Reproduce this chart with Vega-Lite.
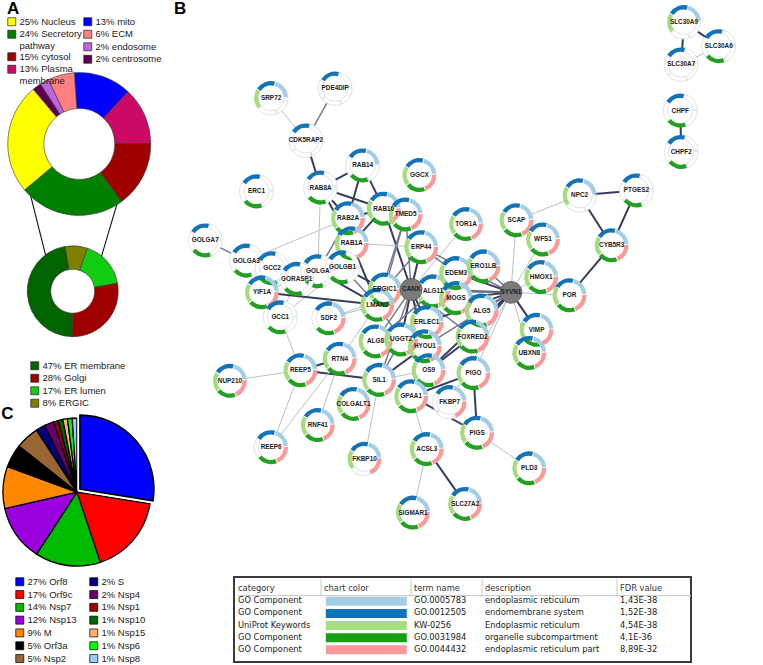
{
  "$schema": "https://vega.github.io/schema/vega-lite/v6.json",
  "padding": 0,
  "background": "white",
  "bounds": "full",
  "spacing": 0,
  "config": {
    "view": {"stroke": null},
    "title": {"anchor": "start", "fontSize": 17, "fontWeight": "bold", "font": "Liberation Sans", "color": "#000000", "offset": -18},
    "legend": {"orient": "none", "padding": 0, "symbolType": "square", "symbolSize": 64, "symbolStrokeColor": "#222222", "symbolStrokeWidth": 0.7, "labelFont": "Liberation Sans", "labelFontSize": 9.5, "labelColor": "#1a1a1a", "labelOffset": 3, "rowPadding": 0.5, "labelLimit": 300}
  },
  "datasets": {
    "subcell": [
      {"location": "mito", "pct": 13},
      {"location": "Plasma membrane", "pct": 13},
      {"location": "cytosol", "pct": 15},
      {"location": "Secretory pathway", "pct": 24},
      {"location": "Nucleus", "pct": 25},
      {"location": "centrosome", "pct": 2},
      {"location": "endosome", "pct": 2},
      {"location": "ECM", "pct": 6}
    ],
    "secretory": [
      {"location": "ERGIC", "pct": 8},
      {"location": "ER lumen", "pct": 17},
      {"location": "Golgi", "pct": 28},
      {"location": "ER membrane", "pct": 47}
    ],
    "sars": [
      {"protein": "Orf8", "pct": 27},
      {"protein": "Orf9c", "pct": 17},
      {"protein": "Nsp7", "pct": 14},
      {"protein": "Nsp13", "pct": 12},
      {"protein": "M", "pct": 9},
      {"protein": "Orf3a", "pct": 5},
      {"protein": "Nsp2", "pct": 5},
      {"protein": "S", "pct": 2},
      {"protein": "Nsp4", "pct": 2},
      {"protein": "Nsp1", "pct": 1},
      {"protein": "Nsp10", "pct": 1},
      {"protein": "Nsp15", "pct": 1},
      {"protein": "Nsp6", "pct": 1},
      {"protein": "Nsp8", "pct": 1}
    ],
    "nodes": [
      {"name": "SRP72", "gx": 255, "gy": 102, "m": "ERK"},
      {"name": "PDE4DIP", "gx": 325, "gy": 92, "m": "E"},
      {"name": "CDK5RAP2", "gx": 293, "gy": 146, "m": "E"},
      {"name": "RAB14", "gx": 355, "gy": 172, "m": "ERS"},
      {"name": "GGCX", "gx": 417, "gy": 182, "m": "ERPSK"},
      {"name": "ERC1", "gx": 239, "gy": 199, "m": "ES"},
      {"name": "RAB8A", "gx": 309, "gy": 195, "m": "ES"},
      {"name": "RAB10", "gx": 378, "gy": 217, "m": "ERPSK"},
      {"name": "TMED5", "gx": 402, "gy": 223, "m": "ERPSK"},
      {"name": "RAB2A", "gx": 339, "gy": 227, "m": "ERPSK"},
      {"name": "TOR1A", "gx": 468, "gy": 233, "m": "ERPSK"},
      {"name": "RAB1A", "gx": 343, "gy": 253, "m": "ERPSK"},
      {"name": "ERP44", "gx": 419, "gy": 257, "m": "ERPSK"},
      {"name": "GOLGA7", "gx": 183, "gy": 250, "m": "ES"},
      {"name": "GOLGA3", "gx": 228, "gy": 271, "m": "ES"},
      {"name": "GCC2", "gx": 256, "gy": 279, "m": "ES"},
      {"name": "GOLGA", "gx": 306, "gy": 282, "m": "ES"},
      {"name": "GOLGB1", "gx": 333, "gy": 278, "m": "ES"},
      {"name": "GORASP1", "gx": 283, "gy": 290, "m": "ES"},
      {"name": "YIF1A", "gx": 245, "gy": 304, "m": "ERPSK"},
      {"name": "GCC1", "gx": 265, "gy": 330, "m": "ES"},
      {"name": "ERGIC1", "gx": 379, "gy": 301, "m": "ERPSK"},
      {"name": "CANX", "gx": 408, "gy": 301, "m": "", "bait": true},
      {"name": "ALG11", "gx": 432, "gy": 303, "m": "ERPSK"},
      {"name": "EDEM3", "gx": 457, "gy": 284, "m": "ERPSK"},
      {"name": "ERO1LB", "gx": 487, "gy": 277, "m": "ERPSK"},
      {"name": "MOGS", "gx": 457, "gy": 310, "m": "ERPSK"},
      {"name": "ALG5", "gx": 485, "gy": 323, "m": "ERPSK"},
      {"name": "LMAN2", "gx": 371, "gy": 317, "m": "ERPSK"},
      {"name": "SDF2", "gx": 318, "gy": 331, "m": "ERPS"},
      {"name": "ERLEC1", "gx": 425, "gy": 335, "m": "ERPSK"},
      {"name": "FOXRED2", "gx": 475, "gy": 350, "m": "ERPSK"},
      {"name": "ALG8", "gx": 369, "gy": 355, "m": "ERPSK"},
      {"name": "UGGT2", "gx": 397, "gy": 353, "m": "ERPSK"},
      {"name": "HYOU1", "gx": 423, "gy": 360, "m": "ERPSK"},
      {"name": "NPC2", "gx": 592, "gy": 203, "m": "ERK"},
      {"name": "PTGES2", "gx": 654, "gy": 198, "m": "ES"},
      {"name": "SCAP", "gx": 523, "gy": 229, "m": "ERPSK"},
      {"name": "WFS1", "gx": 552, "gy": 249, "m": "ERPSK"},
      {"name": "CYB5R3", "gx": 627, "gy": 255, "m": "ERPSK"},
      {"name": "HMOX1", "gx": 550, "gy": 288, "m": "ERPSK"},
      {"name": "SYVN1", "gx": 517, "gy": 304, "m": "", "bait": true},
      {"name": "POR", "gx": 581, "gy": 307, "m": "ERPSK"},
      {"name": "VIMP", "gx": 545, "gy": 343, "m": "ERPSK"},
      {"name": "UBXN8", "gx": 537, "gy": 367, "m": "ERPSK"},
      {"name": "NUP210", "gx": 210, "gy": 396, "m": "ERPSK"},
      {"name": "REEP5", "gx": 287, "gy": 385, "m": "ERPSK"},
      {"name": "RTN4", "gx": 330, "gy": 373, "m": "ERPSK"},
      {"name": "SIL1", "gx": 373, "gy": 395, "m": "ERPSK"},
      {"name": "OS9", "gx": 427, "gy": 385, "m": "ERPSK"},
      {"name": "PIGO", "gx": 476, "gy": 388, "m": "ERPSK"},
      {"name": "GPAA1", "gx": 408, "gy": 412, "m": "ERPSK"},
      {"name": "FKBP7", "gx": 450, "gy": 418, "m": "ERP"},
      {"name": "COLGALT1", "gx": 345, "gy": 420, "m": "ERPSK"},
      {"name": "RNF41", "gx": 306, "gy": 442, "m": "ERPSK"},
      {"name": "PIGS", "gx": 480, "gy": 450, "m": "ERPSK"},
      {"name": "REEP6", "gx": 255, "gy": 465, "m": "ERPS"},
      {"name": "ACSL3", "gx": 425, "gy": 467, "m": "ERPSK"},
      {"name": "FKBP10", "gx": 357, "gy": 477, "m": "ERPK"},
      {"name": "SIGMAR1", "gx": 410, "gy": 533, "m": "ERPSK"},
      {"name": "SLC27A2", "gx": 467, "gy": 524, "m": "ERPSK"},
      {"name": "PLD3", "gx": 537, "gy": 487, "m": "ERPSK"},
      {"name": "SLC30A9", "gx": 706, "gy": 23, "m": "ERK"},
      {"name": "SLC30A6", "gx": 744, "gy": 48, "m": "ES"},
      {"name": "SLC30A7", "gx": 703, "gy": 67, "m": "E"},
      {"name": "CHPF", "gx": 702, "gy": 115, "m": "ES"},
      {"name": "CHPF2", "gx": 703, "gy": 158, "m": "ES"}
    ],
    "edges": [
      {"s": "SRP72", "t": "CDK5RAP2", "w": 0.45},
      {"s": "PDE4DIP", "t": "CDK5RAP2", "w": 0.7},
      {"s": "CDK5RAP2", "t": "RAB8A", "w": 0.95},
      {"s": "RAB14", "t": "RAB8A", "w": 0.95},
      {"s": "RAB14", "t": "RAB10", "w": 0.95},
      {"s": "RAB14", "t": "RAB2A", "w": 0.95},
      {"s": "RAB8A", "t": "RAB2A", "w": 0.95},
      {"s": "RAB8A", "t": "RAB10", "w": 0.95},
      {"s": "RAB8A", "t": "RAB1A", "w": 0.95},
      {"s": "RAB8A", "t": "GOLGA", "w": 0.45},
      {"s": "RAB2A", "t": "RAB10", "w": 0.95},
      {"s": "RAB2A", "t": "RAB1A", "w": 0.95},
      {"s": "RAB2A", "t": "GOLGA3", "w": 0.45},
      {"s": "RAB2A", "t": "GOLGB1", "w": 0.95},
      {"s": "RAB2A", "t": "GOLGA", "w": 0.7},
      {"s": "RAB10", "t": "RAB1A", "w": 0.95},
      {"s": "RAB10", "t": "CANX", "w": 0.95},
      {"s": "RAB10", "t": "TMED5", "w": 0.7},
      {"s": "TMED5", "t": "CANX", "w": 0.7},
      {"s": "TMED5", "t": "ERGIC1", "w": 0.7},
      {"s": "TMED5", "t": "LMAN2", "w": 0.7},
      {"s": "RAB1A", "t": "ERP44", "w": 0.45},
      {"s": "RAB1A", "t": "GOLGB1", "w": 0.95},
      {"s": "RAB1A", "t": "GOLGA", "w": 0.95},
      {"s": "RAB1A", "t": "LMAN2", "w": 0.95},
      {"s": "RAB1A", "t": "GORASP1", "w": 0.7},
      {"s": "TOR1A", "t": "CANX", "w": 0.45},
      {"s": "ERP44", "t": "CANX", "w": 0.95},
      {"s": "ERP44", "t": "ERGIC1", "w": 0.7},
      {"s": "ERP44", "t": "SYVN1", "w": 0.7},
      {"s": "ERP44", "t": "EDEM3", "w": 0.7},
      {"s": "GOLGA7", "t": "GOLGA3", "w": 0.7},
      {"s": "GOLGA3", "t": "GCC2", "w": 0.45},
      {"s": "GCC2", "t": "GOLGA", "w": 0.7},
      {"s": "GCC2", "t": "GORASP1", "w": 0.7},
      {"s": "GCC2", "t": "GCC1", "w": 0.45},
      {"s": "GORASP1", "t": "GOLGA", "w": 0.95},
      {"s": "GORASP1", "t": "GCC1", "w": 0.45},
      {"s": "GORASP1", "t": "GOLGB1", "w": 0.45},
      {"s": "GORASP1", "t": "YIF1A", "w": 0.45},
      {"s": "GOLGA", "t": "GOLGB1", "w": 0.95},
      {"s": "GOLGA", "t": "LMAN2", "w": 0.95},
      {"s": "GOLGB1", "t": "ERGIC1", "w": 0.95},
      {"s": "GOLGB1", "t": "LMAN2", "w": 0.7},
      {"s": "GOLGB1", "t": "GCC1", "w": 0.45},
      {"s": "YIF1A", "t": "LMAN2", "w": 0.95},
      {"s": "YIF1A", "t": "GCC1", "w": 0.45},
      {"s": "ERGIC1", "t": "CANX", "w": 0.95},
      {"s": "ERGIC1", "t": "LMAN2", "w": 0.95},
      {"s": "LMAN2", "t": "CANX", "w": 0.95},
      {"s": "LMAN2", "t": "SDF2", "w": 0.45},
      {"s": "LMAN2", "t": "UGGT2", "w": 0.7},
      {"s": "CANX", "t": "ALG11", "w": 0.95},
      {"s": "CANX", "t": "MOGS", "w": 0.95},
      {"s": "CANX", "t": "EDEM3", "w": 0.95},
      {"s": "CANX", "t": "ERO1LB", "w": 0.7},
      {"s": "CANX", "t": "ERLEC1", "w": 0.95},
      {"s": "CANX", "t": "UGGT2", "w": 0.95},
      {"s": "CANX", "t": "HYOU1", "w": 0.7},
      {"s": "CANX", "t": "ALG8", "w": 0.7},
      {"s": "CANX", "t": "OS9", "w": 0.95},
      {"s": "CANX", "t": "ALG5", "w": 0.7},
      {"s": "CANX", "t": "FOXRED2", "w": 0.7},
      {"s": "CANX", "t": "SIL1", "w": 0.7},
      {"s": "CANX", "t": "SYVN1", "w": 0.95},
      {"s": "CANX", "t": "SDF2", "w": 0.45},
      {"s": "SYVN1", "t": "SCAP", "w": 0.45},
      {"s": "SYVN1", "t": "WFS1", "w": 0.45},
      {"s": "SYVN1", "t": "HMOX1", "w": 0.45},
      {"s": "SYVN1", "t": "POR", "w": 0.45},
      {"s": "SYVN1", "t": "VIMP", "w": 0.95},
      {"s": "SYVN1", "t": "UBXN8", "w": 0.45},
      {"s": "SYVN1", "t": "ERO1LB", "w": 0.7},
      {"s": "SYVN1", "t": "ALG5", "w": 0.95},
      {"s": "SYVN1", "t": "MOGS", "w": 0.95},
      {"s": "SYVN1", "t": "EDEM3", "w": 0.95},
      {"s": "SYVN1", "t": "FOXRED2", "w": 0.95},
      {"s": "SYVN1", "t": "OS9", "w": 0.95},
      {"s": "SYVN1", "t": "ERLEC1", "w": 0.95},
      {"s": "SYVN1", "t": "HYOU1", "w": 0.7},
      {"s": "SYVN1", "t": "ALG11", "w": 0.7},
      {"s": "SCAP", "t": "NPC2", "w": 0.45},
      {"s": "NPC2", "t": "PTGES2", "w": 0.95},
      {"s": "NPC2", "t": "CYB5R3", "w": 0.95},
      {"s": "PTGES2", "t": "CYB5R3", "w": 0.95},
      {"s": "CYB5R3", "t": "POR", "w": 0.95},
      {"s": "HMOX1", "t": "POR", "w": 0.7},
      {"s": "GCC1", "t": "REEP5", "w": 0.45},
      {"s": "NUP210", "t": "REEP5", "w": 0.45},
      {"s": "REEP5", "t": "RTN4", "w": 0.95},
      {"s": "REEP5", "t": "REEP6", "w": 0.45},
      {"s": "REEP5", "t": "SIL1", "w": 0.95},
      {"s": "RTN4", "t": "REEP6", "w": 0.45},
      {"s": "RTN4", "t": "RNF41", "w": 0.45},
      {"s": "RTN4", "t": "LMAN2", "w": 0.45},
      {"s": "SIL1", "t": "HYOU1", "w": 0.95},
      {"s": "SIL1", "t": "OS9", "w": 0.45},
      {"s": "SIL1", "t": "FKBP10", "w": 0.45},
      {"s": "SIL1", "t": "UGGT2", "w": 0.7},
      {"s": "OS9", "t": "FOXRED2", "w": 0.95},
      {"s": "HYOU1", "t": "UGGT2", "w": 0.7},
      {"s": "PIGO", "t": "GPAA1", "w": 0.95},
      {"s": "PIGO", "t": "PIGS", "w": 0.95},
      {"s": "GPAA1", "t": "PIGS", "w": 0.95},
      {"s": "GPAA1", "t": "ACSL3", "w": 0.45},
      {"s": "FKBP7", "t": "SYVN1", "w": 0.45},
      {"s": "PIGO", "t": "SYVN1", "w": 0.45},
      {"s": "ACSL3", "t": "SIGMAR1", "w": 0.45},
      {"s": "ACSL3", "t": "SLC27A2", "w": 0.95},
      {"s": "PIGS", "t": "PLD3", "w": 0.45},
      {"s": "SLC30A9", "t": "SLC30A6", "w": 0.95},
      {"s": "SLC30A9", "t": "SLC30A7", "w": 0.95},
      {"s": "SLC30A6", "t": "SLC30A7", "w": 0.45},
      {"s": "CHPF", "t": "CHPF2", "w": 0.95},
      {"s": "MOGS", "t": "ALG5", "w": 0.7},
      {"s": "ALG11", "t": "ALG8", "w": 0.7},
      {"s": "ERLEC1", "t": "OS9", "w": 0.95},
      {"s": "UGGT2", "t": "ALG8", "w": 0.45}
    ],
    "termRows": [
      {"row": 1, "category": "GO Component", "term": "GO.0005783", "description": "endoplasmic reticulum", "fdr": "1,43E-38"},
      {"row": 2, "category": "GO Component", "term": "GO.0012505", "description": "endomembrane system", "fdr": "1,52E-38"},
      {"row": 3, "category": "UniProt Keywords", "term": "KW-0256", "description": "Endoplasmic reticulum", "fdr": "4,54E-38"},
      {"row": 4, "category": "GO Component", "term": "GO.0031984", "description": "organelle subcompartment", "fdr": "4,1E-36"},
      {"row": 5, "category": "GO Component", "term": "GO.0044432", "description": "endoplasmic reticulum part", "fdr": "8,89E-32"}
    ],
    "termCols": [
      {"col": "category", "idx": 0, "header": "category"},
      {"col": "color", "idx": 1, "header": "chart color"},
      {"col": "term", "idx": 2, "header": "term name"},
      {"col": "description", "idx": 3, "header": "description"},
      {"col": "fdr", "idx": 4, "header": "FDR value"}
    ]
  },
  "hconcat": [
    {
      "spacing": 0,
      "bounds": "flush",
      "vconcat": [
        {
          "width": 168,
          "height": 418,
          "title": {"text": "A", "dx": 1},
          "resolve": {"scale": {"color": "independent", "theta": "independent"}},
          "layer": [
            {
              "data": {"values": [{}]},
              "mark": {"type": "rule", "color": "#111111", "strokeWidth": 1.1},
              "encoding": {
                "x": {"datum": 24, "type": "quantitative", "scale": {"domain": [0, 168]}, "axis": null},
                "y": {"datum": 201, "type": "quantitative", "scale": {"domain": [0, 418], "reverse": true}, "axis": null},
                "x2": {"datum": 43},
                "y2": {"datum": 277}
              }
            },
            {
              "data": {"values": [{}]},
              "mark": {"type": "rule", "color": "#111111", "strokeWidth": 1.1},
              "encoding": {
                "x": {"datum": 121, "type": "quantitative"},
                "y": {"datum": 212.5, "type": "quantitative"},
                "x2": {"datum": 102},
                "y2": {"datum": 277}
              }
            },
            {
              "data": {"name": "subcell"},
              "transform": [
                {"stack": "pct", "groupby": [], "offset": "normalize", "as": ["t0", "t1"]},
                {"filter": {"field": "location", "oneOf": ["Nucleus", "Secretory pathway", "cytosol", "Plasma membrane"]}},
                {"calculate": "datum.pct + '% ' + datum.location", "as": "lab"}
              ],
              "mark": {"type": "arc", "outerRadius": 71.5, "innerRadius": 35.5, "stroke": "#333333", "strokeWidth": 0.6},
              "encoding": {
                "x": {"datum": 78.5, "type": "quantitative"},
                "y": {"datum": 155, "type": "quantitative"},
                "theta": {"field": "t0", "type": "quantitative", "scale": {"domain": [0, 1], "range": [-0.07, 6.2132]}},
                "theta2": {"field": "t1"},
                "color": {
                  "field": "lab", "type": "nominal",
                  "scale": {"domain": ["25% Nucleus", "24% Secretory pathway", "15% cytosol", "13% Plasma membrane"], "range": ["#ffff00", "#008000", "#a00000", "#cc0a66"]},
                  "legend": {"title": null, "legendX": 1, "legendY": 17, "labelExpr": "datum.label == '24% Secretory pathway' ? ['24% Secretory', '\u2007\u2007\u2007\u2007pathway'] : datum.label == '13% Plasma membrane' ? ['13% Plasma', '\u2007\u2007\u2007\u2007membrane'] : datum.label"}
                }
              }
            },
            {
              "data": {"name": "subcell"},
              "transform": [
                {"stack": "pct", "groupby": [], "offset": "normalize", "as": ["t0", "t1"]},
                {"filter": {"field": "location", "oneOf": ["mito", "ECM", "endosome", "centrosome"]}},
                {"calculate": "(datum.pct < 10 ? '\u2007' : '') + datum.pct + '% ' + datum.location", "as": "lab"}
              ],
              "mark": {"type": "arc", "outerRadius": 71.5, "innerRadius": 35.5, "stroke": "#333333", "strokeWidth": 0.6},
              "encoding": {
                "x": {"datum": 78.5, "type": "quantitative"},
                "y": {"datum": 155, "type": "quantitative"},
                "theta": {"field": "t0", "type": "quantitative", "scale": {"domain": [0, 1], "range": [-0.07, 6.2132]}},
                "theta2": {"field": "t1"},
                "color": {
                  "field": "lab", "type": "nominal",
                  "scale": {"domain": ["13% mito", "\u20076% ECM", "\u20072% endosome", "\u20072% centrosome"], "range": ["#0000ff", "#ff8080", "#bb66dd", "#5e0050"]},
                  "legend": {"title": null, "legendX": 77, "legendY": 17}
                }
              }
            },
            {
              "data": {"name": "secretory"},
              "transform": [
                {"stack": "pct", "groupby": [], "offset": "normalize", "as": ["t0", "t1"]},
                {"calculate": "(datum.pct < 10 ? '\u2007' : '') + datum.pct + '% ' + datum.location", "as": "lab"}
              ],
              "mark": {"type": "arc", "outerRadius": 45.5, "innerRadius": 22, "stroke": "#333333", "strokeWidth": 0.6},
              "encoding": {
                "x": {"datum": 71.5, "type": "quantitative"},
                "y": {"datum": 313.5, "type": "quantitative"},
                "theta": {"field": "t0", "type": "quantitative", "scale": {"domain": [0, 1], "range": [-0.1745, 6.1087]}},
                "theta2": {"field": "t1"},
                "color": {
                  "field": "lab", "type": "nominal",
                  "scale": {"domain": ["47% ER membrane", "28% Golgi", "17% ER lumen", "\u20078% ERGIC"], "range": ["#006400", "#a00000", "#11cc11", "#808000"]},
                  "legend": {"title": null, "legendX": 24, "legendY": 361}
                }
              }
            }
          ]
        },
        {
          "width": 168,
          "height": 247,
          "title": {"text": "C", "dx": 1},
          "resolve": {"scale": {"color": "independent"}},
          "layer": [
            {
              "data": {"name": "sars"},
              "transform": [
                {"stack": "pct", "groupby": [], "offset": "normalize", "as": ["t0", "t1"]},
                {"filter": {"field": "protein", "oneOf": ["Orf9c", "Nsp7", "Nsp13", "M", "Orf3a", "Nsp2"]}},
                {"calculate": "(datum.pct < 10 ? '\u2007' : '') + datum.pct + '% ' + datum.protein", "as": "lab"}
              ],
              "mark": {"type": "arc", "outerRadius": 74, "stroke": "#000000", "strokeWidth": 1.3},
              "encoding": {
                "x": {"datum": 76, "type": "quantitative", "scale": {"domain": [0, 168]}, "axis": null},
                "y": {"datum": 78, "type": "quantitative", "scale": {"domain": [0, 247], "reverse": true}, "axis": null},
                "theta": {"field": "t0", "type": "quantitative", "scale": {"domain": [0, 1], "range": [0, 6.2832]}},
                "theta2": {"field": "t1"},
                "color": {
                  "field": "lab", "type": "nominal",
                  "scale": {"domain": ["27% Orf8", "17% Orf9c", "14% Nsp7", "12% Nsp13", "\u20079% M", "\u20075% Orf3a", "\u20075% Nsp2"], "range": ["#0000ff", "#ff0000", "#00bb00", "#9900dd", "#ff8800", "#000000", "#996633"]},
                  "legend": {"title": null, "legendX": 9, "legendY": 159, "rowPadding": 0.8, "symbolStrokeColor": "#000000"}
                }
              }
            },
            {
              "data": {"name": "sars"},
              "transform": [
                {"stack": "pct", "groupby": [], "offset": "normalize", "as": ["t0", "t1"]},
                {"filter": {"field": "protein", "oneOf": ["S", "Nsp4", "Nsp1", "Nsp10", "Nsp15", "Nsp6", "Nsp8"]}},
                {"calculate": "datum.pct + '% ' + datum.protein", "as": "lab"}
              ],
              "mark": {"type": "arc", "outerRadius": 74, "stroke": "#000000", "strokeWidth": 1.3},
              "encoding": {
                "x": {"datum": 76, "type": "quantitative"},
                "y": {"datum": 78, "type": "quantitative"},
                "theta": {"field": "t0", "type": "quantitative"},
                "theta2": {"field": "t1"},
                "color": {
                  "field": "lab", "type": "nominal",
                  "scale": {"domain": ["2% S", "2% Nsp4", "1% Nsp1", "1% Nsp10", "1% Nsp15", "1% Nsp6", "1% Nsp8"], "range": ["#000080", "#660066", "#990000", "#006600", "#ffb070", "#00ff00", "#99ccff"]},
                  "legend": {"title": null, "legendX": 83, "legendY": 159, "rowPadding": 0.8, "symbolStrokeColor": "#000000"}
                }
              }
            },
            {
              "data": {"name": "sars"},
              "transform": [
                {"stack": "pct", "groupby": [], "offset": "normalize", "as": ["t0", "t1"]},
                {"filter": {"field": "protein", "equal": "Orf8"}}
              ],
              "mark": {"type": "arc", "outerRadius": 74, "stroke": "#ffffff", "strokeWidth": 5, "xOffset": 3, "yOffset": -3},
              "encoding": {
                "x": {"datum": 76, "type": "quantitative"},
                "y": {"datum": 78, "type": "quantitative"},
                "theta": {"field": "t0", "type": "quantitative"},
                "theta2": {"field": "t1"},
                "color": {"value": "#0000ff"}
              }
            },
            {
              "data": {"name": "sars"},
              "transform": [
                {"stack": "pct", "groupby": [], "offset": "normalize", "as": ["t0", "t1"]},
                {"filter": {"field": "protein", "equal": "Orf8"}}
              ],
              "mark": {"type": "arc", "outerRadius": 74, "stroke": "#000000", "strokeWidth": 1.6, "xOffset": 3, "yOffset": -3},
              "encoding": {
                "x": {"datum": 76, "type": "quantitative"},
                "y": {"datum": 78, "type": "quantitative"},
                "theta": {"field": "t0", "type": "quantitative"},
                "theta2": {"field": "t1"},
                "color": {"value": "#0000ff"}
              }
            }
          ]
        }
      ]
    },
    {
      "spacing": 0,
      "bounds": "flush",
      "vconcat": [
        {
          "width": 595,
          "height": 577,
          "title": {"text": "B", "dx": -1},
          "resolve": {"scale": {"color": "independent"}},
          "layer": [
            {
              "data": {"name": "edges"},
              "transform": [
                {"lookup": "s", "from": {"data": {"name": "nodes"}, "key": "name", "fields": ["gx", "gy"]}, "as": ["sx", "sy"]},
                {"lookup": "t", "from": {"data": {"name": "nodes"}, "key": "name", "fields": ["gx", "gy"]}, "as": ["tx", "ty"]}
              ],
              "mark": {"type": "rule"},
              "encoding": {
                "x": {"field": "sx", "type": "quantitative", "scale": {"domain": [168, 763]}, "axis": null},
                "y": {"field": "sy", "type": "quantitative", "scale": {"domain": [0, 577], "reverse": true}, "axis": null},
                "x2": {"field": "tx"},
                "y2": {"field": "ty"},
                "color": {"field": "w", "type": "quantitative", "scale": {"domain": [0.4, 1], "range": ["#c3c5cf", "#2a3352"]}, "legend": null},
                "strokeWidth": {"field": "w", "type": "quantitative", "scale": {"domain": [0.4, 1], "range": [0.8, 2.1]}, "legend": null}
              }
            },
            {
              "data": {"name": "nodes"},
              "transform": [{"filter": "!datum.bait"}],
              "mark": {"type": "point", "filled": true, "color": "#ffffff", "opacity": 1, "size": 900},
              "encoding": {
                "x": {"field": "gx", "type": "quantitative"},
                "y": {"field": "gy", "type": "quantitative"}
              }
            },
            {
              "data": {"name": "nodes"},
              "transform": [
                {"filter": "!datum.bait"},
                {"calculate": "[{'k': 'E', 'i': 0, 'j': 1}, {'k': 'R', 'i': 1, 'j': 2}, {'k': 'P', 'i': 2, 'j': 3}, {'k': 'S', 'i': 3, 'j': 4}, {'k': 'K', 'i': 4, 'j': 5}]", "as": "seg"},
                {"flatten": ["seg"]}
              ],
              "mark": {"type": "arc", "outerRadius": 17, "innerRadius": 12.6, "padAngle": 0.045, "strokeWidth": 0.7},
              "encoding": {
                "x": {"field": "gx", "type": "quantitative"},
                "y": {"field": "gy", "type": "quantitative"},
                "theta": {"field": "seg.i", "type": "quantitative", "scale": {"domain": [0, 5], "range": [-1.0, 5.2832]}},
                "theta2": {"field": "seg.j"},
                "color": {
                  "condition": {"test": "indexof(datum.m, datum.seg.k) < 0", "value": "#ffffff"},
                  "field": "seg.k", "type": "nominal",
                  "scale": {"domain": ["E", "R", "P", "S", "K"], "range": ["#1273b6", "#a4cee6", "#f99a99", "#22a022", "#a6dc80"]},
                  "legend": null
                },
                "stroke": {"condition": {"test": "indexof(datum.m, datum.seg.k) < 0", "value": "#d6d6d6"}, "value": "transparent"}
              }
            },
            {
              "data": {"name": "nodes"},
              "transform": [{"filter": "datum.bait"}],
              "mark": {"type": "point", "filled": true, "color": "#7a7a7a", "stroke": "#5c5c5c", "strokeWidth": 0.8, "opacity": 1, "size": 480},
              "encoding": {
                "x": {"field": "gx", "type": "quantitative"},
                "y": {"field": "gy", "type": "quantitative"}
              }
            },
            {
              "data": {"name": "nodes"},
              "mark": {"type": "text", "fontSize": 6.4, "fontWeight": "bold", "font": "Liberation Sans", "color": "#1a1a1a", "baseline": "middle", "align": "center"},
              "encoding": {
                "x": {"field": "gx", "type": "quantitative"},
                "y": {"field": "gy", "type": "quantitative"},
                "text": {"field": "name"}
              }
            }
          ]
        },
        {
          "spacing": 0,
          "bounds": "flush",
          "hconcat": [
            {
              "width": 59,
              "height": 85,
              "data": {"values": [{}]},
              "mark": {"type": "point", "opacity": 0}
            },
            {
              "width": 457,
              "height": 85,
              "view": {"stroke": "#3a3a3a", "strokeWidth": 2},
              "layer": [
                {
                  "data": {"name": "termCols"},
                  "transform": [{"filter": "datum.idx > 0"}],
                  "mark": {"type": "rule", "color": "#c8c8c8", "xOffset": -3},
                  "encoding": {
                    "x": {"field": "idx", "type": "quantitative", "scale": {"domain": [0, 1, 2, 3, 4, 5], "range": [4, 90, 180, 251, 386, 457]}, "axis": null},
                    "y": {"datum": -0.83, "type": "quantitative", "scale": {"domain": [-0.83, 5.61], "reverse": true}, "axis": null},
                    "y2": {"datum": 0.53}
                  }
                },
                {
                  "data": {"values": [{}]},
                  "mark": {"type": "rule", "color": "#c8c8c8"},
                  "encoding": {
                    "x": {"datum": 0, "type": "quantitative"},
                    "x2": {"datum": 5},
                    "y": {"datum": 0.53, "type": "quantitative"}
                  }
                },
                {
                  "data": {"name": "termCols"},
                  "mark": {"type": "text", "align": "left", "baseline": "middle", "fontSize": 8.3, "font": "DejaVu Sans", "color": "#333333"},
                  "encoding": {
                    "x": {"field": "idx", "type": "quantitative"},
                    "y": {"datum": 0, "type": "quantitative"},
                    "text": {"field": "header"}
                  }
                },
                {
                  "data": {"name": "termRows"},
                  "mark": {"type": "rect", "height": 9},
                  "encoding": {
                    "x": {"datum": 1.02, "type": "quantitative"},
                    "x2": {"datum": 1.92},
                    "y": {"field": "row", "type": "quantitative"},
                    "color": {"field": "term", "type": "nominal", "scale": {"domain": ["GO.0005783", "GO.0012505", "KW-0256", "GO.0031984", "GO.0044432"], "range": ["#a4cee6", "#0e76b8", "#a6df80", "#14a214", "#fb9a9a"]}, "legend": null}
                  }
                },
                {
                  "data": {"name": "termRows"},
                  "transform": [
                    {"fold": ["category", "term", "description", "fdr"], "as": ["col", "text"]},
                    {"lookup": "col", "from": {"data": {"name": "termCols"}, "key": "col", "fields": ["idx"]}}
                  ],
                  "mark": {"type": "text", "align": "left", "baseline": "middle", "fontSize": 8.3, "font": "DejaVu Sans", "color": "#1a1a1a"},
                  "encoding": {
                    "x": {"field": "idx", "type": "quantitative"},
                    "y": {"field": "row", "type": "quantitative"},
                    "text": {"field": "text"}
                  }
                }
              ]
            }
          ]
        }
      ]
    }
  ]
}
